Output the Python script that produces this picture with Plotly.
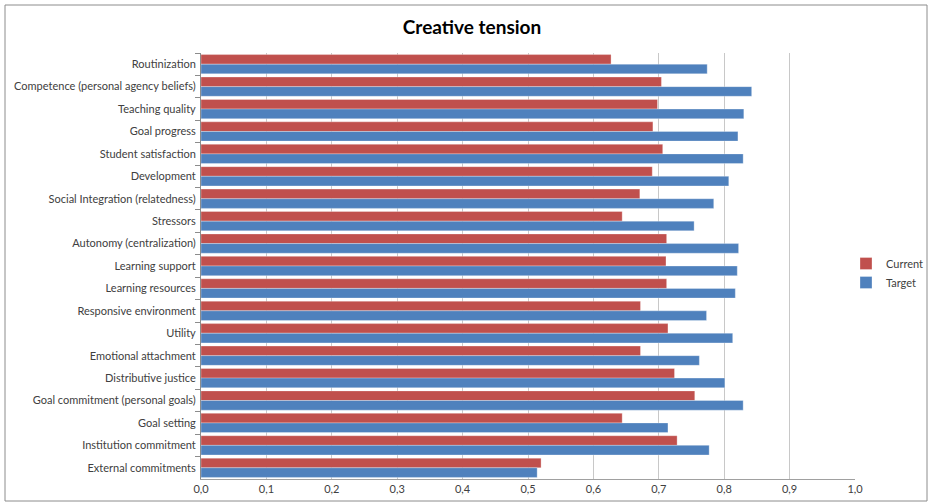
import plotly.graph_objects as go

categories = [
    "Routinization",
    "Competence (personal agency beliefs)",
    "Teaching quality",
    "Goal progress",
    "Student satisfaction",
    "Development",
    "Social Integration (relatedness)",
    "Stressors",
    "Autonomy (centralization)",
    "Learning support",
    "Learning resources",
    "Responsive environment",
    "Utility",
    "Emotional attachment",
    "Distributive justice",
    "Goal commitment (personal goals)",
    "Goal setting",
    "Institution commitment",
    "External commitments",
]

current = [0.627, 0.704, 0.698, 0.691, 0.706, 0.690, 0.671, 0.644, 0.712, 0.711,
           0.712, 0.672, 0.714, 0.672, 0.724, 0.755, 0.644, 0.728, 0.520]
target = [0.774, 0.842, 0.830, 0.821, 0.829, 0.807, 0.784, 0.754, 0.822, 0.820,
          0.817, 0.773, 0.813, 0.762, 0.801, 0.829, 0.714, 0.777, 0.514]

x_ticks = [0.0, 0.1, 0.2, 0.3, 0.4, 0.5, 0.6, 0.7, 0.8, 0.9, 1.0]

FONT = "Lato, Calibri, Carlito, sans-serif"
TEXT = "#404040"

fig = go.Figure()
fig.add_trace(go.Bar(
    name="Current", y=categories, x=current, orientation="h",
    marker=dict(color="#C0504D", line=dict(color="rgba(255,255,255,0.5)", width=0.6)),
))
fig.add_trace(go.Bar(
    name="Target", y=categories, x=target, orientation="h",
    marker=dict(color="#4F81BD", line=dict(color="rgba(255,255,255,0.5)", width=0.6)),
))

L, R, T, B = 201, 74, 53, 25
W, H = 929, 504
pw, ph = W - L - R, H - T - B

def px_x(p):
    return (p - L) / pw

def px_y(p):
    return (H - B - p) / ph

fig.update_layout(
    width=W, height=H,
    margin=dict(l=L, r=R, t=T, b=B, autoexpand=False),
    paper_bgcolor="white", plot_bgcolor="white",
    barmode="group", bargap=0.14, bargroupgap=0.0,
    separators=",.",
    font=dict(family=FONT, size=11, color=TEXT),
    title=dict(text="<b>Creative tension</b>", x=472 / W, xanchor="center",
               xref="container", y=1 - 27 / H, yanchor="middle",
               font=dict(family=FONT, size=19, color="black")),
    showlegend=True,
    legend=dict(x=px_x(846), y=px_y(273), xanchor="left", yanchor="middle",
                font=dict(family=FONT, size=11, color=TEXT),
                bgcolor="rgba(0,0,0,0)", itemwidth=30, tracegroupgap=4),
    xaxis=dict(range=[0, 1.0], tickvals=x_ticks, tickformat=".1f",
               showgrid=True, gridcolor="#c8c8c8", gridwidth=1,
               showline=True, linecolor="#a0a0a0", linewidth=1,
               ticks="", zeroline=False, tickfont=dict(size=11, color=TEXT)),
    yaxis=dict(autorange="reversed", type="category",
               showline=True, linecolor="#8c8c8c", linewidth=1,
               ticks="outside", tickson="boundaries", ticklen=5, tickcolor="#8c8c8c",
               showgrid=False, tickfont=dict(size=11, color=TEXT), ticklabelstandoff=2),
    shapes=[dict(type="rect", xref="paper", yref="paper",
                 x0=px_x(5), x1=px_x(927), y0=px_y(501), y1=px_y(5),
                 line=dict(color="#8c8c8c", width=1), fillcolor="rgba(0,0,0,0)",
                 layer="below")],
)

fig.write_html("out.html")
